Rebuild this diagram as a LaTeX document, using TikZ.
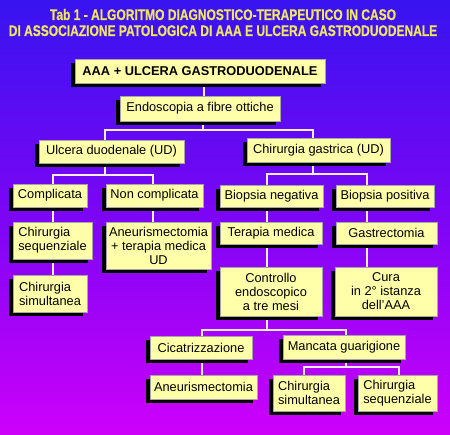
\documentclass[tikz,border=0pt]{standalone}
\usepackage{fontspec}
\setmainfont{Liberation Sans}
\newfontfamily\titlefont[FakeStretch=0.78, FakeBold=0.6]{Liberation Sans Bold}
\usetikzlibrary{shadows}
\definecolor{ctop}{RGB}{35,30,230}
\definecolor{cone}{RGB}{55,20,240}
\definecolor{ctwo}{RGB}{125,5,245}
\definecolor{cthree}{RGB}{205,0,250}
\definecolor{cbot}{RGB}{250,0,250}
\definecolor{boxyellow}{RGB}{255,255,170}
\definecolor{titleyellow}{RGB}{240,228,100}
\definecolor{connc}{RGB}{250,235,250}
\pgfdeclareverticalshading{bgshade}{100bp}{color(0bp)=(cbot); color(25bp)=(cthree); color(50bp)=(ctwo); color(75bp)=(cone); color(100bp)=(ctop)}
\pgfdeclarelayer{bglayer}
\pgfdeclarelayer{connlayer}
\pgfsetlayers{bglayer,connlayer,main}
\tikzset{
  box/.style={fill=boxyellow, draw=black!35, line width=0.2pt, inner sep=0pt,
    align=center, font=\fontsize{12.8}{14}\selectfont,
    general shadow={fill=black, shadow xshift=-4pt, shadow yshift=-4pt}},
  lbox/.style={box, align=left},
  conn/.style={draw=connc, line width=1.4pt},
  titletext/.style={text=titleyellow, font=\titlefont\fontsize{15.4}{17}\selectfont, inner sep=0pt, anchor=base}
}
\begin{document}
\begin{tikzpicture}[x=1pt,y=-1pt]
\useasboundingbox (0,0) rectangle (450,435);
\begin{pgfonlayer}{bglayer}
\fill[shading=bgshade] (0,0) rectangle (450,435);
\end{pgfonlayer}
% title
\node[titletext] (t1) at (223,20) {Tab 1 - ALGORITMO DIAGNOSTICO-TERAPEUTICO IN CASO};
\node[titletext] (t2) at (223,36) {DI ASSOCIAZIONE PATOLOGICA DI AAA E ULCERA GASTRODUODENALE};
% boxes
\node[box, minimum width=250pt, minimum height=24pt, font=\bfseries\fontsize{12.8}{14}\selectfont] (b1) at (200,71) {AAA + ULCERA GASTRODUODENALE};
\node[box, minimum width=160pt, minimum height=25pt] (b2) at (200,108.5) {Endoscopia a fibre ottiche};
\node[box, minimum width=145pt, minimum height=23pt] (uld) at (111.5,151.5) {Ulcera duodenale (UD)};
\node[box, minimum width=143pt, minimum height=24pt] (chg) at (318.5,150) {Chirurgia gastrica (UD)};
\node[box, minimum width=74pt, minimum height=23pt] (comp) at (50,195.5) {Complicata};
\node[box, minimum width=97pt, minimum height=23pt] (ncomp) at (154.5,195.5) {Non complicata};
\node[box, minimum width=103pt, minimum height=22pt] (bneg) at (271.5,196) {Biopsia negativa};
\node[box, minimum width=98pt, minimum height=22pt] (bpos) at (385,196) {Biopsia positiva};
\node[lbox, minimum width=79pt, minimum height=37pt] (cseq) at (52.5,240.5) {Chirurgia\\sequenziale};
\node[box, minimum width=105pt, minimum height=47pt] (aneu1) at (158.5,245.5) {Aneurismectomia\\+ terapia medica\\UD};
\node[box, minimum width=102pt, minimum height=22pt] (tmed) at (271,233) {Terapia medica};
\node[box, minimum width=101pt, minimum height=22pt] (gast) at (386.5,233) {Gastrectomia};
\node[lbox, minimum width=74pt, minimum height=37pt] (csim) at (50,293.5) {Chirurgia\\simultanea};
\node[box, minimum width=102pt, minimum height=49pt] (ctrl) at (271,291.5) {Controllo\\endoscopico\\a tre mesi};
\node[box, minimum width=102pt, minimum height=49pt] (cura) at (386,291.5) {Cura\\in 2° istanza\\dell’AAA};
\node[box, minimum width=102pt, minimum height=23pt] (cic) at (201,347.5) {Cicatrizzazione};
\node[box, minimum width=122pt, minimum height=24pt] (manc) at (344,347) {Mancata guarigione};
\node[box, minimum width=107pt, minimum height=24pt] (aneu2) at (203.5,387) {Aneurismectomia};
\node[lbox, minimum width=72pt, minimum height=36pt] (csimb) at (309,393) {Chirurgia\\simultanea};
\node[lbox, minimum width=79pt, minimum height=36pt] (cseqb) at (397.5,393) {Chirurgia\\sequenziale};
% connector columns and junctions
\coordinate (xa) at (204,0);
\coordinate (ja) at (203,130);
\coordinate (jaL) at (105,130);
\coordinate (jaR) at (313,130);
\coordinate (jb) at (105,175);
\coordinate (jbL) at (53,175);
\coordinate (jbR) at (153,175);
\coordinate (jc) at (313,174);
\coordinate (jcL) at (267,174);
\coordinate (jcR) at (367,174);
\coordinate (jd) at (267,330);
\coordinate (jdL) at (202,330);
\coordinate (jdR) at (346,330);
\coordinate (je) at (346,367);
\coordinate (jeL) at (304,367);
\coordinate (jeR) at (399,367);
\begin{pgfonlayer}{connlayer}
\draw[conn] (b1.south -| xa) -- (b2.north -| xa);
\draw[conn] (b2.south -| ja) -- (ja);
\draw[conn] (uld.north -| jaL) |- (jaR) -- (chg.north -| jaR);
\draw[conn] (uld.south -| jb) -- (jb);
\draw[conn] (comp.north -| jbL) |- (jbR) -- (ncomp.north -| jbR);
\draw[conn] (chg.south -| jc) -- (jc);
\draw[conn] (bneg.north -| jcL) |- (jcR) -- (bpos.north -| jcR);
\draw[conn] (comp.south -| jbL) -- (cseq.north -| jbL);
\draw[conn] (cseq.south -| jbL) -- (csim.north -| jbL);
\draw[conn] (ncomp.south -| jbR) -- (aneu1.north -| jbR);
\draw[conn] (bneg.south -| jcL) -- (tmed.north -| jcL);
\draw[conn] (tmed.south -| jcL) -- (ctrl.north -| jcL);
\draw[conn] (bpos.south -| jcR) -- (gast.north -| jcR);
\draw[conn] (gast.south -| jcR) -- (cura.north -| jcR);
\draw[conn] (ctrl.south -| jd) -- (jd);
\draw[conn] (cic.north -| jdL) |- (jdR) -- (manc.north -| jdR);
\draw[conn] (cic.south -| jdL) -- (aneu2.north -| jdL);
\draw[conn] (manc.south -| je) -- (je);
\draw[conn] (csimb.north -| jeL) |- (jeR) -- (cseqb.north -| jeR);
\end{pgfonlayer}
\end{tikzpicture}
\end{document}
